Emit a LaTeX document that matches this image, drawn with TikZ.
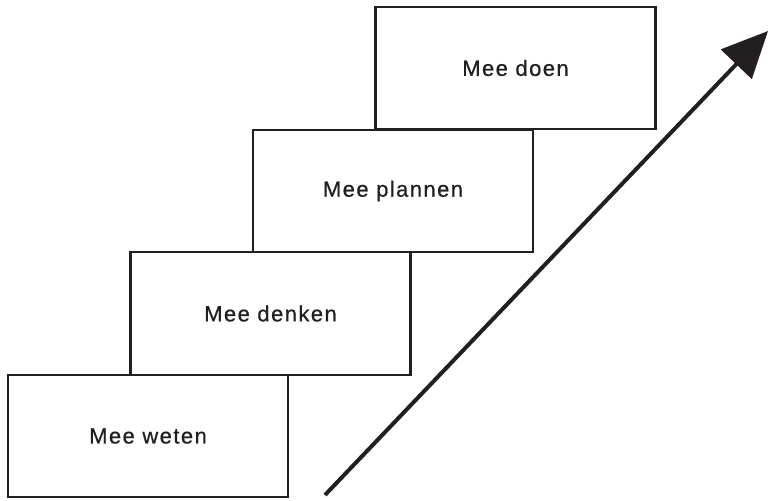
\documentclass[tikz,border=0pt]{standalone}
\usepackage{fontspec}
\setmainfont{Liberation Sans}[LetterSpace=6.5,FakeBold=0.7]
\usetikzlibrary{arrows.meta}
\definecolor{ink}{HTML}{231F20}
\begin{document}
\begin{tikzpicture}[x=1pt,y=-1pt,
  stairbox/.style={draw=ink, line width=2.3pt, minimum width=280pt, minimum height=122.5pt,
    inner sep=0pt, text=ink, font=\fontsize{22}{26}\selectfont},
  growarrow/.style={draw=ink, line width=4pt, -{Triangle[length=46pt,width=42pt]}}]
\useasboundingbox (0,0) rectangle (770,500);
\node[stairbox] (b1) at (148,436) {Mee weten};
\node[stairbox] (b2) at (270.5,313.5) {Mee denken};
\node[stairbox] (b3) at (393,191) {Mee plannen};
\node[stairbox] (b4) at (515.5,68) {Mee doen};
\coordinate (s) at (325,495);
\coordinate (e) at (768,31);
\draw[growarrow] (s) -- (e);
\end{tikzpicture}
\end{document}
